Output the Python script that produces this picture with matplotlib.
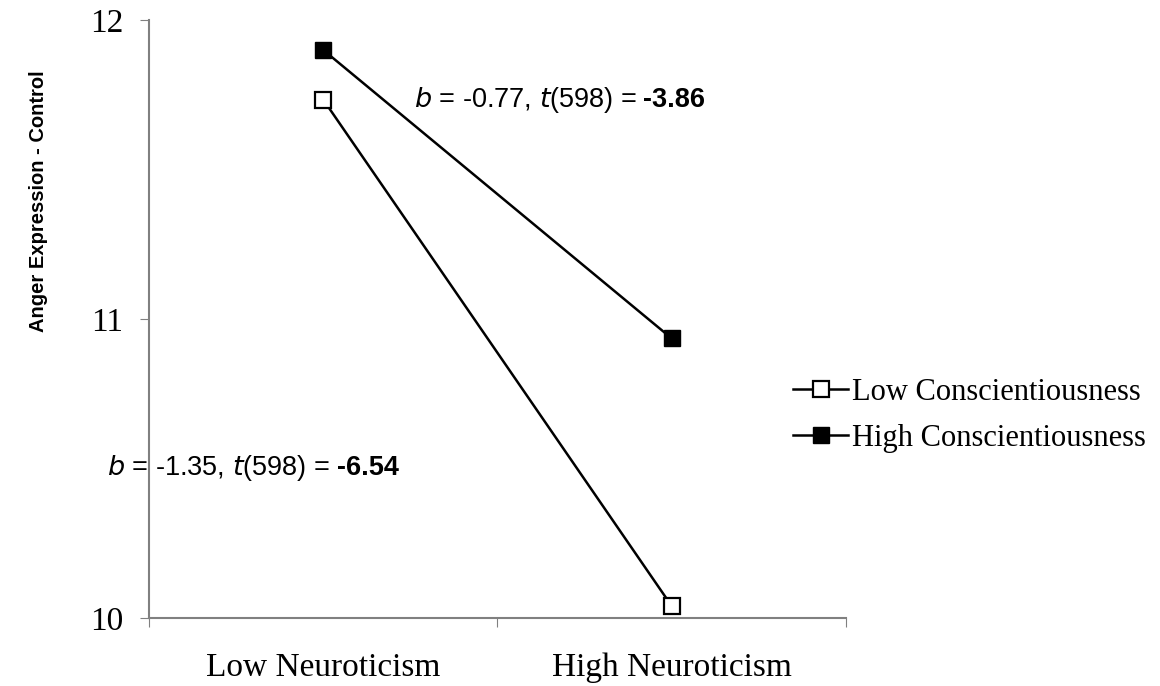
import matplotlib.pyplot as plt

categories = ["Low Neuroticism", "High Neuroticism"]
low_consc = [11.734, 10.04]
high_consc = [11.90, 10.935]
series_names = ["Low Conscientiousness", "High Conscientiousness"]
y_ticks = [10, 11, 12]

plt.rcParams["font.family"] = ["Liberation Serif", "DejaVu Serif"]

fig = plt.figure(figsize=(11.6, 6.86), dpi=100)
ax = fig.add_axes([0.1284, 0.0991, 0.6009, 0.8717])

x = [0.5, 1.5]
ax.plot(x, low_consc, color="black", lw=1.8, marker="s", ms=11,
        mfc="white", mec="black", mew=1.6, label=series_names[0])
ax.plot(x, high_consc, color="black", lw=1.8, marker="s", ms=11,
        mfc="black", mec="black", label=series_names[1])

ax.set_xlim(0, 2)
ax.set_ylim(10, 12)
ax.set_yticks(y_ticks)
ax.set_yticklabels([str(v) for v in y_ticks], fontsize=24)
ax.set_xticks([0, 1, 2])
ax.set_xticklabels([])
ax.set_xticks(x, minor=True)
ax.set_xticklabels(categories, minor=True, fontsize=24)
ax.tick_params(axis="x", which="minor", length=0, pad=25)
ax.tick_params(axis="x", which="major", length=6.5, color="#808080", direction="out")
ax.tick_params(axis="y", length=6.5, color="#808080", direction="out", pad=12)

for s in ["top", "right"]:
    ax.spines[s].set_visible(False)
for s in ["left", "bottom"]:
    ax.spines[s].set_color("#808080")
    ax.spines[s].set_linewidth(1.5)

ax.set_ylabel("Anger Expression - Control", fontsize=14.5, fontweight="bold",
              family="Liberation Sans")
ax.yaxis.set_label_coords(-0.145, 0.697)

fig.canvas.draw()
r = fig.canvas.get_renderer()


def add_stat(xp, yp, head, tail):
    t = ax.text(xp, yp, head, fontsize=19.5, family="Liberation Sans",
                va="center", ha="left")
    bb = t.get_window_extent(renderer=r)
    xd = ax.transData.inverted().transform((bb.x1 + 7, 0))[0]
    ax.text(xd, yp, tail, fontsize=19.5, family="Liberation Sans",
            fontweight="bold", va="center", ha="left")


add_stat(0.76, 11.732, "$\\it{b}$ = -0.77, $\\it{t}$(598) =", "-3.86")
add_stat(-0.12, 10.503, "$\\it{b}$ = -1.35, $\\it{t}$(598) =", "-6.54")

ax.legend(loc="center left", bbox_to_anchor=(0.924, 0.339), frameon=False,
          fontsize=22, handlelength=1.8, handletextpad=0.12, labelspacing=0.55,
          borderaxespad=0, borderpad=0)

fig.savefig("out.png", dpi=100)
